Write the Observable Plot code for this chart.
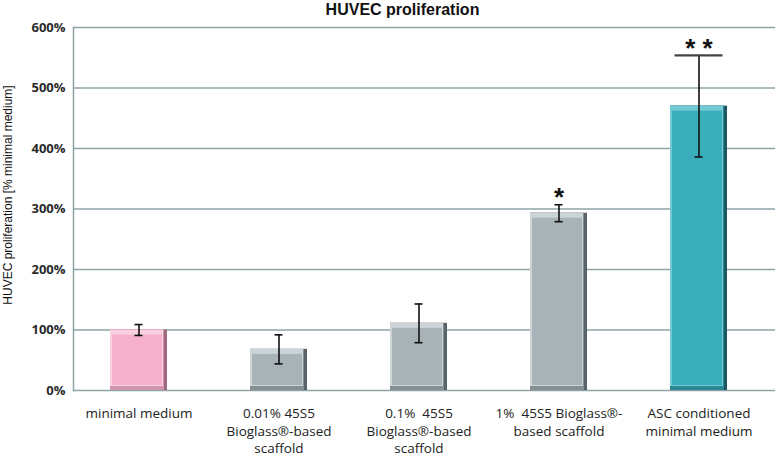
<!DOCTYPE html>
<html>
<head>
<meta charset="utf-8">
<script src="https://cdn.jsdelivr.net/npm/d3@7"></script>
<script src="https://cdn.jsdelivr.net/npm/@observablehq/plot@0.6"></script>
<style>
  body { margin: 0; background: #fff; }
  #chart svg { display: block; }
</style>
</head>
<body>
<div id="chart"></div>
<script>
const categories = [
  "minimal medium",
  "0.01% 45S5\nBioglass®-based\nscaffold",
  "0.1%  45S5\nBioglass®-based\nscaffold",
  "1%  45S5 Bioglass®-\nbased scaffold",
  "ASC conditioned\nminimal medium"
];
const values = [100, 68, 111, 293, 470];
const errors = [9, 24, 32, 14, 84];
const significance = ["", "", "", "*", "* *"];
const fills = ["#f6b2cc", "#a8b3b7", "#a8b3b7", "#a8b3b7", "#3aaeba"];
const edges = ["#9d6b7d", "#596468", "#596468", "#596468", "#1b5862"];
const bottoms = ["#cf93aa", "#848f93", "#848f93", "#848f93", "#2a8793"];
const highlights = ["#fbd0e0", "#ccd4d7", "#ccd4d7", "#ccd4d7", "#72cbd4"];
const yTicks = [0, 100, 200, 300, 400, 500, 600];
const title = "HUVEC proliferation";
const yLabel = "HUVEC proliferation [% minimal medium]";

const data = categories.map((c, i) => ({
  cat: c, v: values[i], lo: values[i] - errors[i], hi: values[i] + errors[i],
  sig: significance[i], fill: fills[i], edge: edges[i], bottom: bottoms[i], hl: highlights[i]
}));

const plot = Plot.plot({
  width: 777,
  height: 456,
  marginTop: 27,
  marginBottom: 66,
  marginLeft: 73,
  marginRight: 2,
  style: { fontFamily: "Open Sans, sans-serif", background: "#fff" },
  x: { domain: categories, range: [68, 769], paddingInner: 0.594, paddingOuter: 0.297 },
  y: { domain: [0, 600] },
  marks: [
    Plot.gridY(yTicks, { stroke: "#8fa3a6", strokeOpacity: 1, strokeWidth: 1.5 }),
    Plot.frame({ anchor: "left", stroke: "#8fa3a6", strokeWidth: 1.5 }),
    Plot.axisY({ ticks: yTicks, tickFormat: d => d + "%", tickSize: 0, tickPadding: 8, label: null,
                 fontSize: 13, fontWeight: "bold", fill: "#2a2a2a" }),
    Plot.axisX({ tickSize: 0, tickPadding: 15, label: null, fontSize: 13.5, lineHeight: 1.3, fill: "#222",
                 fontFamily: "Open Sans, sans-serif" }),
    Plot.text([yLabel], { frameAnchor: "left", textAnchor: "middle", rotate: -90, dx: -65, dy: -14, fontSize: 12,
                 fontFamily: "Liberation Sans, Arial, sans-serif", fill: "#111" }),
    Plot.text([title], { frameAnchor: "top", dx: -22, dy: -24, fontSize: 16, fontWeight: "bold",
                 fontFamily: "Liberation Sans, Arial, sans-serif", fill: "#111", letterSpacing: "-0.3px" }),
    // bevelled bars: right edge, bottom edge, top highlight, face
    Plot.barY(data, { x: "cat", y: "v", fill: d => d.edge }),
    Plot.barY(data, { x: "cat", y: "v", fill: d => d.bottom, insetRight: 3 }),
    Plot.barY(data, { x: "cat", y: "v", fill: d => d.hl, insetRight: 4, insetBottom: 4 }),
    Plot.barY(data, { x: "cat", y: "v", fill: d => d.fill, insetLeft: 2, insetRight: 5, insetTop: 5, insetBottom: 5 }),
    // error bars
    Plot.ruleX(data, { x: "cat", y1: "lo", y2: "hi", stroke: "#111", strokeWidth: 1.6 }),
    Plot.tickY(data, { x: "cat", y: "lo", stroke: "#111", strokeWidth: 1.6, insetLeft: 24.5, insetRight: 24.5 }),
    Plot.tickY(data.filter(d => d.sig !== "* *"), { x: "cat", y: "hi", stroke: "#111", strokeWidth: 1.6, insetLeft: 24.5, insetRight: 24.5 }),
    Plot.tickY(data.filter(d => d.sig === "* *"), { x: "cat", y: "hi", stroke: "#444", strokeWidth: 2.4, insetLeft: 4.5, insetRight: 4.5 }),
    Plot.text(data.filter(d => d.sig), { x: "cat", y: "hi", text: "sig", dy: -7, fontSize: 26, fontWeight: "bold",
                 fontFamily: "Liberation Sans, Arial, sans-serif", fill: "#111" })
  ]
});

document.getElementById("chart").appendChild(plot);
</script>
</body>
</html>
